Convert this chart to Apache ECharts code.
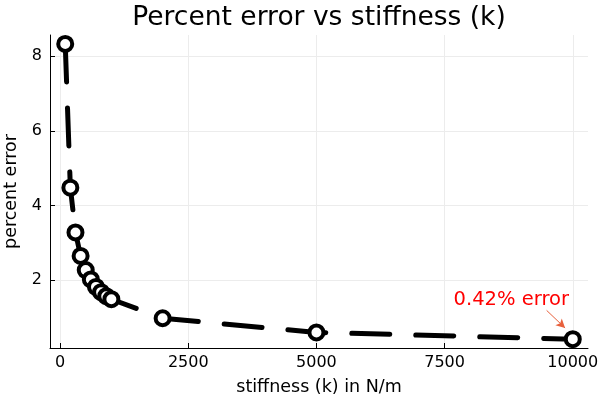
<!DOCTYPE html>
<html>
<head>
<meta charset="utf-8">
<script src="https://cdn.jsdelivr.net/npm/echarts@6/dist/echarts.min.js"></script>
<style>
  html, body { margin: 0; padding: 0; background: #fff; }
  #main { width: 600px; height: 400px; }
</style>
</head>
<body>
<div id="main"></div>
<script>
// stiffness values (N/m) and percent error
const stiffness = [100, 200, 300, 400, 500, 600, 700, 800, 900, 1000, 2000, 5000, 10000];
const percentError = [8.33, 4.48, 3.28, 2.65, 2.27, 2.02, 1.82, 1.68, 1.57, 1.49, 0.98, 0.6, 0.42];
const xTicks = [0, 2500, 5000, 7500, 10000];
const yTicks = [2, 4, 6, 8];

const noteText = '0.42% error';
const notePos = [8800, 1.46];
const arrowFrom = [9490, 1.19];
const arrowTo = [9850, 0.72];

const font = 'DejaVu Sans';
const chart = echarts.init(document.getElementById('main'));

const points = stiffness.map((k, i) => [k, percentError[i]]);

chart.setOption({
  animation: false,
  backgroundColor: '#fff',
  title: {
    text: 'Percent error vs stiffness (k)',
    left: 314, top: 0, textAlign: 'center',
    textStyle: { fontFamily: font, fontSize: 26.5, fontWeight: 'normal', color: '#000' }
  },
  grid: { left: 50, right: 12, top: 35, bottom: 52, outerBoundsMode: 'none', containLabel: false },
  xAxis: {
    type: 'value',
    min: -197, max: 10297,
    name: 'stiffness (k) in N/m',
    nameLocation: 'middle', nameGap: 30,
    nameTextStyle: { fontFamily: font, fontSize: 17.5, color: '#000' },
    axisLine: { onZero: false, lineStyle: { color: '#000', width: 1 } },
    axisTick: { inside: true, length: 5, lineStyle: { color: '#000' }, customValues: xTicks },
    axisLabel: {
      fontFamily: font, fontSize: 16, color: '#000', margin: 7, customValues: xTicks,
      formatter: v => String(v), hideOverlap: false
    },
    splitLine: { show: true, lineStyle: { color: '#ececec', width: 1 } }
  },
  yAxis: {
    type: 'value',
    min: 0.183, max: 8.57,
    name: 'percent error',
    nameLocation: 'middle', nameGap: 28,
    nameTextStyle: { fontFamily: font, fontSize: 17.5, color: '#000' },
    axisLine: { show: true, onZero: false, lineStyle: { color: '#000', width: 1 } },
    axisTick: { show: true, inside: true, length: 5, lineStyle: { color: '#000' }, customValues: yTicks },
    axisLabel: { fontFamily: font, fontSize: 16, color: '#000', margin: 8, customValues: yTicks },
    splitLine: { show: true, lineStyle: { color: '#ececec', width: 1 } }
  },
  series: [{
    type: 'line',
    data: points,
    symbol: 'circle',
    symbolSize: 14,
    showAllSymbol: true,
    lineStyle: { color: '#000', width: 5, type: [38, 26], cap: 'round' },
    itemStyle: { color: '#fff', borderColor: '#000', borderWidth: 4 },
    z: 3,
    markPoint: {
      symbol: 'circle', symbolSize: 0,
      label: {
        show: true, formatter: noteText, color: '#ff0000',
        fontFamily: font, fontSize: 19.5, position: 'inside'
      },
      data: [{ coord: notePos }]
    },
    markLine: {
      silent: true,
      symbol: ['none', 'arrow'], symbolSize: [7, 9],
      lineStyle: { color: '#e8603c', width: 1, type: 'solid' },
      label: { show: false },
      data: [[{ coord: arrowFrom }, { coord: arrowTo }]]
    }
  }]
});
</script>
</body>
</html>
